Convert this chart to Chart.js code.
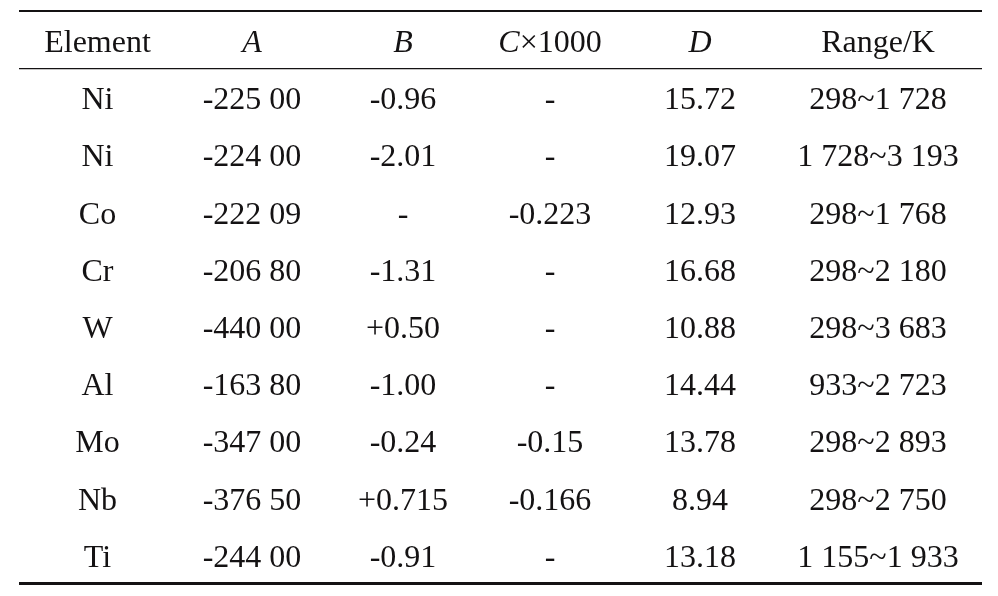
<!DOCTYPE html>
<html>
<head>
<meta charset="utf-8">
<script src="https://cdn.jsdelivr.net/npm/chart.js@4.4.1/dist/chart.umd.min.js"></script>
<style>
  body { margin: 0; background: #fff; }
  #wrap { width: 998px; height: 596px; }
</style>
</head>
<body>
<div id="wrap"><canvas id="tableChart"></canvas></div>
<script>
const headers = ['Element', 'A', 'B', 'C×1000', 'D', 'Range/K'];
const elements = ['Ni', 'Ni', 'Co', 'Cr', 'W', 'Al', 'Mo', 'Nb', 'Ti'];
const colA = ['-225 00', '-224 00', '-222 09', '-206 80', '-440 00', '-163 80', '-347 00', '-376 50', '-244 00'];
const colB = ['-0.96', '-2.01', '-', '-1.31', '+0.50', '-1.00', '-0.24', '+0.715', '-0.91'];
const colC = ['-', '-', '-0.223', '-', '-', '-', '-0.15', '-0.166', '-'];
const colD = ['15.72', '19.07', '12.93', '16.68', '10.88', '14.44', '13.78', '8.94', '13.18'];
const ranges = ['298~1 728', '1 728~3 193', '298~1 768', '298~2 180', '298~3 683', '933~2 723', '298~2 893', '298~2 750', '1 155~1 933'];

// table layout: column widths (scale units), rules
const colWidths = [157, 152, 150, 144, 156, 200];
const FONT = '"Liberation Serif", "Times New Roman", serif';
const FONT_SIZE = 32;
const INK = '#141213';
const TEXT_DY = 4;

const columns = [elements, colA, colB, colC, colD, ranges];
const totalWidth = colWidths.reduce((a, b) => a + b, 0) + 4;
const colCenters = colWidths.map((w, i) => colWidths.slice(0, i).reduce((a, b) => a + b, 0) + w / 2);

const datasets = columns.map((col, i) => ({
    label: headers[i],
    texts: [headers[i]].concat(col),
    data: [headers[i]].concat(col).map((_, r) => ({ x: colCenters[i], y: r - 1 })),
    pointRadius: 0,
    pointHoverRadius: 0
}));

const cellText = {
    id: 'cellText',
    afterDatasetsDraw(chart) {
        const ctx = chart.ctx;
        ctx.save();
        ctx.fillStyle = INK;
        ctx.textBaseline = 'middle';
        chart.data.datasets.forEach((ds, i) => {
            const meta = chart.getDatasetMeta(i);
            meta.data.forEach((pt, r) => {
                const txt = ds.texts[r];
                const y = pt.y + TEXT_DY;
                // header symbols A, B, C, D set in italic
                const m = r === 0 ? txt.match(/^([A-D])(.*)$/) : null;
                if (m) {
                    const it = 'italic ' + FONT_SIZE + 'px ' + FONT;
                    const up = FONT_SIZE + 'px ' + FONT;
                    ctx.font = it;
                    const w1 = ctx.measureText(m[1]).width;
                    ctx.font = up;
                    const w2 = ctx.measureText(m[2]).width;
                    let x = pt.x - (w1 + w2) / 2;
                    ctx.textAlign = 'left';
                    ctx.font = it;
                    ctx.fillText(m[1], x, y);
                    ctx.font = up;
                    ctx.fillText(m[2], x + w1, y);
                } else {
                    ctx.font = FONT_SIZE + 'px ' + FONT;
                    ctx.textAlign = 'center';
                    ctx.fillText(txt, pt.x, y);
                }
            });
        });
        ctx.restore();
    }
};

const ruleWidths = { '-1.5': 2, '-0.5': 1.2, '8.5': 3 };

new Chart(document.getElementById('tableChart'), {
    type: 'scatter',
    data: { datasets: datasets },
    options: {
        responsive: true,
        maintainAspectRatio: false,
        animation: false,
        events: [],
        layout: { padding: { left: 19, right: 16, top: 11, bottom: 13 } },
        plugins: { legend: { display: false }, tooltip: { enabled: false } },
        scales: {
            x: { type: 'linear', min: 0, max: totalWidth, display: false },
            y: {
                type: 'linear',
                reverse: true,
                min: -1.5,
                max: 8.5,
                afterBuildTicks: (scale) => {
                    scale.ticks = [{ value: -1.5 }, { value: -0.5 }, { value: 8.5 }];
                },
                ticks: { display: false },
                border: { display: false },
                grid: {
                    drawTicks: false,
                    color: INK,
                    lineWidth: (c) => ruleWidths[String(c.tick.value)] || 0
                }
            }
        }
    },
    plugins: [cellText]
});
</script>
</body>
</html>
